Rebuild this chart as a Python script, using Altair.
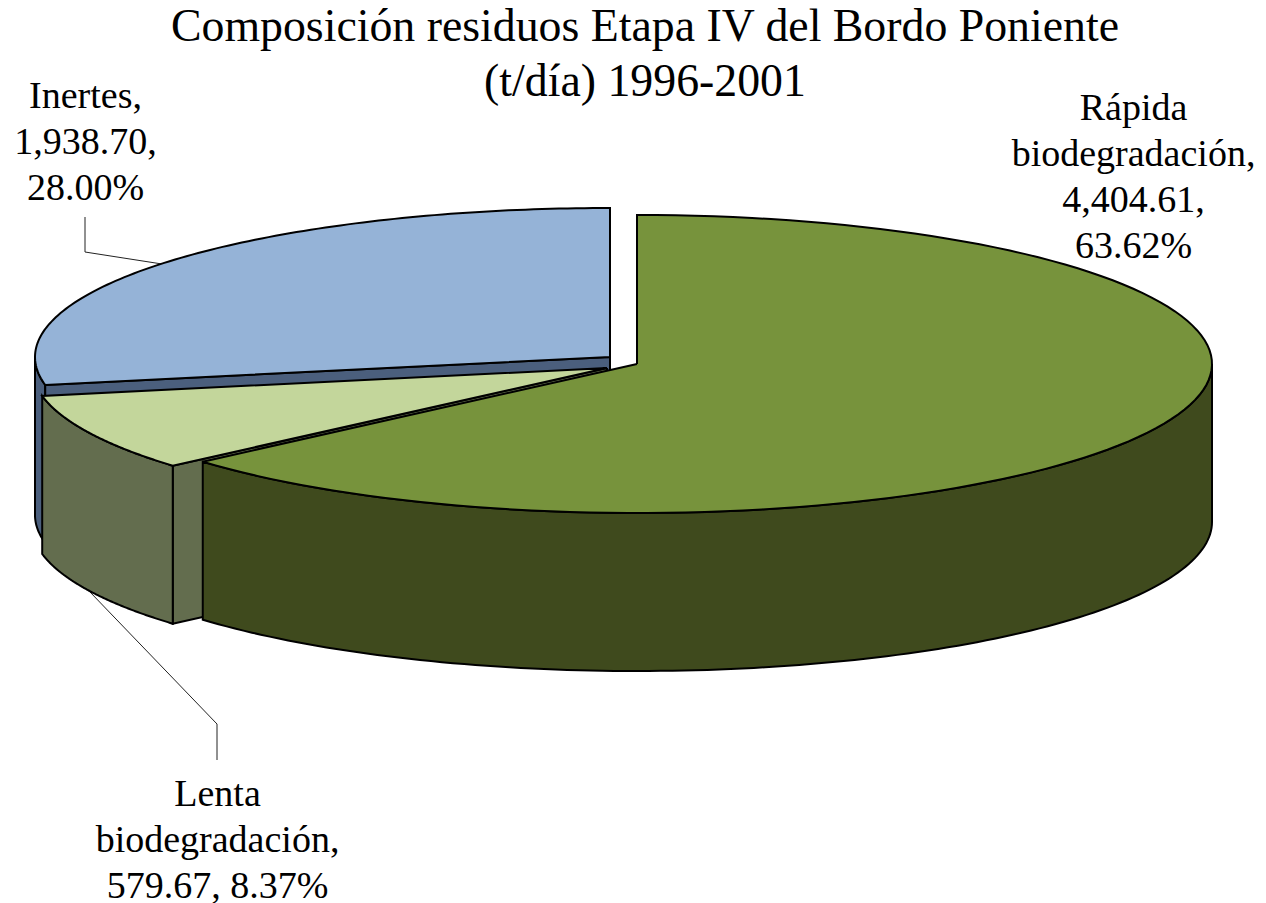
import numpy as np
import pandas as pd
import altair as alt

# values
categories = ["Rápida biodegradación", "Lenta biodegradación", "Inertes"]
tonnes = [4404.61, 579.67, 1938.70]
percent_labels = ["63.62%", "8.37%", "28.00%"]
title_lines = ["Composición residuos Etapa IV del Bordo Poniente", "(t/día) 1996-2001"]

# layout (page pixels)
PAD_TOP = 100
W, H = 1250, 795
RX, RY, DEPTH = 575.0, 149.0, 158.0
CENTERS = {"g": (637.0, 364.0), "l": (607.0, 368.0), "b": (610.0, 357.0)}

shares = np.array(tonnes) / sum(tonnes)
a1 = 360 * shares[0]
a2 = a1 + 360 * shares[1]


def rim(c, a0, a1_, n=120):
    t = np.radians(np.linspace(a0, a1_, n))
    return c[0] + RX * np.sin(t), c[1] - RY * np.cos(t)


def top(c, a0, a1_):
    x, y = rim(c, a0, a1_)
    return np.r_[c[0], x, c[0]], np.r_[c[1], y, c[1]]


def side(c, a0, a1_):
    x, y = rim(c, a0, a1_)
    return np.r_[x, x[::-1], x[0]], np.r_[y, (y + DEPTH)[::-1], y[0]]


def wall(c, a):
    x, y = rim(c, a, a, 1)
    return (np.array([c[0], x[0], x[0], c[0], c[0]]),
            np.array([c[1], y[0], y[0] + DEPTH, c[1] + DEPTH, c[1]]))


xs = alt.X("x:Q", axis=None, scale=alt.Scale(domain=[8, 8 + W], nice=False, zero=False))
ys = alt.Y("y:Q", axis=None, scale=alt.Scale(domain=[PAD_TOP + 8 + H, PAD_TOP + 8], nice=False, zero=False))


def poly(xy, fill):
    df = pd.DataFrame({"x": xy[0], "y": xy[1], "i": np.arange(len(xy[0]))})
    return alt.Chart(df).mark_line(
        fill=fill, stroke="#000000", strokeWidth=2, strokeJoin="miter", clip=False
    ).encode(x=xs, y=ys, order="i:Q")


def leader(px, py):
    df = pd.DataFrame({"x": px, "y": py, "i": np.arange(len(px))})
    return alt.Chart(df).mark_line(stroke="#222222", strokeWidth=1).encode(x=xs, y=ys, order="i:Q")


def label(text, px, py):
    df = pd.DataFrame({"t": [text]})
    return alt.Chart(df).mark_text(
        font="Liberation Serif", fontSize=38, color="#000000", lineBreak="\n",
        lineHeight=46, align="center", baseline="top",
    ).encode(text="t:N", x=alt.value(px - 8), y=alt.value(py - PAD_TOP - 8))


g, l, b = CENTERS["g"], CENTERS["l"], CENTERS["b"]
layers = [
    leader([85, 85, 162], [217, 252, 264]),
    leader([217, 217, 90], [760, 724, 592]),
    poly(side(b, a2, 270), "#4B5F7D"),
    poly(wall(b, a2), "#4B5F7D"),
    poly(top(b, a2, 360), "#95B3D7"),
    poly(wall(l, a1), "#636D4E"),
    poly(side(l, a1, a2), "#636D4E"),
    poly(top(l, a1, a2), "#C3D69B"),
    poly(side(g, 90, a1), "#3F4A1D"),
    poly(top(g, 0, a1), "#77933C"),
    label(f"Rápida\nbiodegradación,\n{tonnes[0]:,.2f},\n{percent_labels[0]}", 1133.5, 89.5),
    label(f"Lenta\nbiodegradación,\n{tonnes[1]:,.2f}, {percent_labels[1]}", 217.5, 775.5),
    label(f"Inertes,\n{tonnes[2]:,.2f},\n{percent_labels[2]}", 85.5, 77.5),
]

chart = alt.layer(*layers).properties(
    width=W, height=H,
    autosize=alt.AutoSizeParams(type="none"),
    padding={"left": 0, "right": 0, "top": PAD_TOP, "bottom": 0},
    title=alt.TitleParams(
        text=title_lines, font="Liberation Serif", fontSize=45.8, fontWeight="normal",
        color="#000000", lineHeight=55, anchor="middle", dx=12, offset=-28,
    ),
).configure_view(stroke=None)

chart.save("out.html", embed_options={"renderer": "svg", "actions": False})
